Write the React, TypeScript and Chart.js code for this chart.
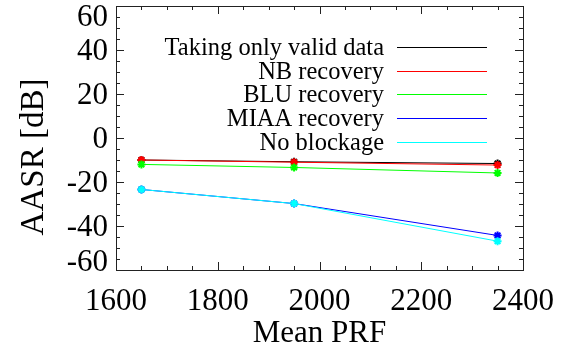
import React, { useEffect, useRef } from 'react';
import { Chart, registerables } from 'chart.js';

Chart.register(...registerables);

const prf = [1650, 1950, 2350];
const validData = [-10, -10.8, -11.6];
const nbRecovery = [-10, -11, -12.3];
const bluRecovery = [-12, -13.4, -15.9];
const miaaRecovery = [-23.4, -29.8, -44.3];
const noBlockage = [-23.4, -29.8, -46.9];

const seriesLabels = ['Taking only valid data', 'NB recovery', 'BLU recovery', 'MIAA recovery', 'No blockage'];
const seriesColors = ['#000000', '#ff0000', '#00ff00', '#0000ff', '#00ffff'];
const seriesValues = [validData, nbRecovery, bluRecovery, miaaRecovery, noBlockage];

const xTicks = [1600, 1800, 2000, 2200, 2400];
const yTicks = [60, 40, 20, 0, -20, -40, -60];
const xMinorStep = 50;
const yMinorStep = 5;
const xTitle = 'Mean PRF';
const yTitle = 'AASR [dB]';

const FONT = '"Liberation Serif", "Times New Roman", serif';

const framePlugin = {
  id: 'idlFrame',
  afterDatasetsDraw(chart: any) {
    const { ctx, chartArea } = chart;
    const { left, right, top, bottom } = chartArea;
    const xs = chart.scales.x;
    const ys = chart.scales.y;
    ctx.save();
    // frame
    ctx.strokeStyle = '#222';
    ctx.lineWidth = 1;
    ctx.strokeRect(Math.round(left) + 0.5, Math.round(top) + 0.5, Math.round(right - left), Math.round(bottom - top));
    // ticks (inward on all four sides)
    const majLen = 8;
    const minLen = 4;
    ctx.beginPath();
    for (let v = xTicks[0]; v <= xTicks[xTicks.length - 1]; v += xMinorStep) {
      const px = Math.round(xs.getPixelForValue(v)) + 0.5;
      const len = xTicks.includes(v) ? majLen : minLen;
      ctx.moveTo(px, bottom);
      ctx.lineTo(px, bottom - len);
      ctx.moveTo(px, top);
      ctx.lineTo(px, top + len);
    }
    for (let v = -60; v <= 60; v += yMinorStep) {
      const py = Math.round(ys.getPixelForValue(v)) + 0.5;
      const len = yTicks.includes(v) ? majLen : minLen;
      ctx.moveTo(left, py);
      ctx.lineTo(left + len, py);
      ctx.moveTo(right, py);
      ctx.lineTo(right - len, py);
    }
    ctx.stroke();

    // tick labels
    ctx.fillStyle = '#000';
    ctx.font = `31px ${FONT}`;
    ctx.textAlign = 'right';
    ctx.textBaseline = 'alphabetic';
    yTicks.forEach((v) => {
      let cy = ys.getPixelForValue(v);
      cy = Math.max(cy, top + 10);
      cy = Math.min(cy, bottom - 9);
      ctx.fillText(String(v), left - 8, cy + 10);
    });
    ctx.textAlign = 'center';
    xTicks.forEach((v) => {
      ctx.fillText(String(v), xs.getPixelForValue(v), bottom + 40);
    });
    // titles
    ctx.font = `31px ${FONT}`;
    ctx.fillText(xTitle, (left + right) / 2, bottom + 72);
    ctx.save();
    ctx.font = `33px ${FONT}`;
    ctx.translate(43, (top + bottom) / 2 + 19);
    ctx.rotate(-Math.PI / 2);
    ctx.fillText(yTitle, 0, 0);
    ctx.restore();

    // legend
    ctx.font = `24.5px ${FONT}`;
    ctx.textAlign = 'right';
    const rowTop = top + 41;
    const rowStep = 23.7;
    chart.data.datasets.forEach((ds: any, i: number) => {
      const cy = rowTop + i * rowStep;
      ctx.fillStyle = '#000';
      ctx.fillText(ds.label, left + 268, cy + 8);
      ctx.strokeStyle = ds.borderColor;
      ctx.lineWidth = 1;
      ctx.beginPath();
      ctx.moveTo(left + 281, Math.round(cy) + 0.5);
      ctx.lineTo(left + 371, Math.round(cy) + 0.5);
      ctx.stroke();
    });
    ctx.restore();
  },
};

export default function App() {
  const ref = useRef<HTMLCanvasElement | null>(null);
  useEffect(() => {
    document.body.style.margin = '0';
    const canvas = ref.current;
    if (!canvas) return;
    const datasets = seriesLabels.map((label, i) => ({
      label,
      data: prf.map((x, j) => ({ x, y: seriesValues[i][j] })),
      borderColor: seriesColors[i],
      backgroundColor: seriesColors[i],
      borderWidth: 1,
      pointStyle: 'star',
      pointRadius: 4,
      pointBorderWidth: 2,
      fill: false,
      tension: 0,
      order: seriesLabels.length - i,
    }));
    const chart = new Chart(canvas, {
      type: 'line',
      data: { datasets },
      options: {
        responsive: false,
        animation: false,
        devicePixelRatio: 1,
        layout: { padding: { left: 116, right: 49, top: 4, bottom: 84 } },
        plugins: { legend: { display: false }, tooltip: { enabled: false } },
        scales: {
          x: {
            type: 'linear',
            display: false,
            min: 1600,
            max: 2400,
          },
          y: {
            type: 'linear',
            display: false,
            min: -60,
            max: 60,
          },
        },
      },
      plugins: [framePlugin],
    });
    return () => chart.destroy();
  }, []);
  return (
    <div style={{ width: 572, height: 354, background: '#fff' }}>
      <canvas ref={ref} width={572} height={354} />
    </div>
  );
}
